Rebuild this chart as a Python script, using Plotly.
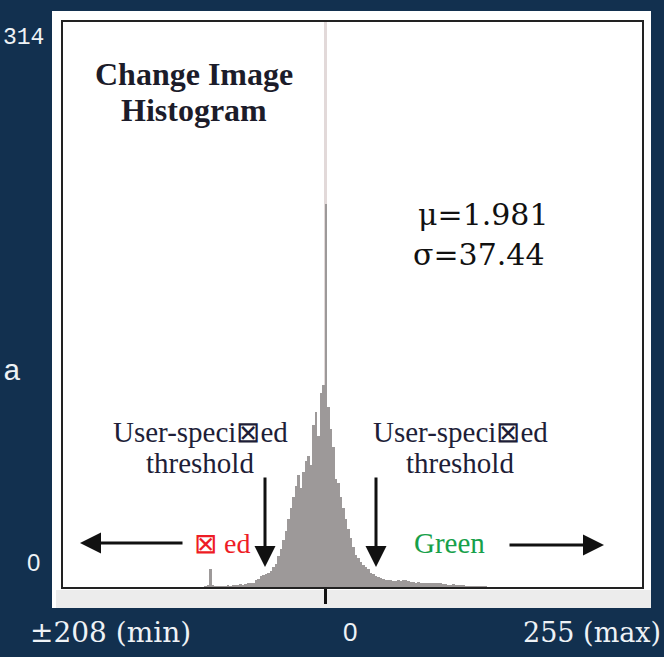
import plotly.graph_objects as go

# ---------------- data ----------------
bin_width = 2
bin_centers = list(range(-96, 130, 2))
counts = [
    0.5, 1, 10, 1, 0.5, 0.5, 0.5, 0.5, 0.5, 1,          # -96 .. -78
    0.5, 1, 1, 1, 1.5, 1, 1.5, 2, 2, 2.5,              # -76 .. -58
    4, 4.5, 6, 6.5, 7, 8, 9, 11, 13, 17,               # -56 .. -38
    21, 26, 31, 38, 44, 50, 56, 62, 55, 64,            # -36 .. -18
    70, 73, 68, 90, 97, 84, 108, 112, 213, 100,        # -16 .. 2
    88, 78, 60, 58, 50, 44, 38, 32, 27, 22,            # 4 .. 22
    18, 16, 14, 12, 11, 10, 8, 7, 6, 5.5,              # 24 .. 42
    5, 4.5, 4, 4, 4, 3.5, 3.5, 4, 3.5, 4,              # 44 .. 62
    4, 3.5, 3, 3, 2.5, 3, 2.5, 2, 2.5, 2,              # 64 .. 82
    2, 2, 2.5, 2, 2, 1.5, 1.5, 1, 1, 1.5,              # 84 .. 102
    1, 1, 0.8, 0.8, 0.5, 0.5, 0.5, 0.5, 0.3, 0.3,      # 104 .. 122
    0.3, 0.2, 0.2,                                     # 124 .. 128
]
overflow_x = [0]
overflow_count = [314]          # unchanged-pixel bin, exceeds the drawn part
y_max = 314
x_min_label = "±208 (min)"
x_zero_label = "0"
x_max_label = "255 (max)"
mu_text = "μ=1.981"
sigma_text = "σ=37.44"

# ---------------- layout helpers ----------------
W, H = 664, 657
L, R, T, B = 63, 642, 22, 587


def px(x):
    return (x - L) / (R - L)


def py(y):
    return (B - y) / (B - T)


fig = go.Figure()
fig.add_trace(go.Bar(x=overflow_x, y=overflow_count, width=1.4,
                     marker=dict(color="#e2d9d9", line=dict(width=0)),
                     hoverinfo="skip", showlegend=False))
fig.add_trace(go.Bar(x=bin_centers, y=counts, width=bin_width,
                     marker=dict(color="#9d9999", line=dict(width=0)),
                     showlegend=False))

serif = "Liberation Serif, Times New Roman, serif"
slab = "DejaVu Serif, serif"
ann = []


def text(t, x, y, size, color, family, xanchor="center", yanchor="middle"):
    ann.append(dict(text=t, x=px(x), y=py(y), xref="paper", yref="paper",
                    showarrow=False, xanchor=xanchor, yanchor=yanchor,
                    font=dict(size=size, color=color, family=family)))


def arrow(x_tip, y_tip, x_tail, y_tail):
    ann.append(dict(text="", x=px(x_tip), y=py(y_tip), xref="paper", yref="paper",
                    ax=x_tail - x_tip, ay=y_tail - y_tip, showarrow=True,
                    arrowhead=2, arrowsize=1.4, arrowwidth=3, arrowcolor="#111111"))


# in-figure texts
text("<b>Change Image</b>", 194, 74, 32, "#1c1c2a", serif)
text("<b>Histogram</b>", 194, 110, 32, "#1c1c2a", serif)
text(mu_text, 483, 215, 30, "#111111", slab)
text(sigma_text, 479, 255, 30, "#111111", slab)
text("User-speci⊠ed", 200, 432, 29, "#1e1e38", serif)
text("threshold", 200, 463, 29, "#1e1e38", serif)
text("User-speci⊠ed", 460, 432, 29, "#1e1e38", serif)
text("threshold", 460, 463, 29, "#1e1e38", serif)
text("⊠ ed", 222, 543, 28, "#ee1c25", serif)
text("Green", 449, 543, 29, "#17a04a", serif)
arrow(265, 567, 265, 476)
arrow(376, 567, 376, 476)
arrow(80, 543, 184, 543)
arrow(604, 545, 508, 545)

# slide texts around the figure
light = "#eef2f6"
text("314", 1, 38, 23, light, "Liberation Mono, monospace", xanchor="left")
text("a", 23, 372, 30, light, "Liberation Mono, monospace", xanchor="right")
text("0", 42, 562, 24, light, "Liberation Sans, Arial, sans-serif", xanchor="right")
text(x_min_label, 110, 632, 28, light, slab)
text(x_zero_label, 350, 632, 26, light, "Liberation Sans, Arial, sans-serif")
text(x_max_label, 521, 632, 27, light, slab, xanchor="left")

shapes = [
    dict(type="rect", xref="paper", yref="paper", x0=px(52), x1=px(651),
         y0=py(608), y1=py(11), fillcolor="#ffffff", line=dict(width=0), layer="below"),
    dict(type="rect", xref="paper", yref="paper", x0=px(56), x1=px(651),
         y0=py(608), y1=py(590), fillcolor="#ececec", line=dict(width=0), layer="below"),
]

fig.update_layout(
    width=W, height=H,
    margin=dict(l=L, r=W - R, t=T, b=H - B),
    paper_bgcolor="#12304f",
    plot_bgcolor="#ffffff",
    barmode="overlay",
    bargap=0,
    showlegend=False,
    annotations=ann,
    shapes=shapes,
    xaxis=dict(range=[-210, 252.6], showgrid=False, zeroline=False,
               showline=True, mirror=True, linecolor="#222222", linewidth=2,
               tickvals=[0], ticks="outside", ticklen=15, tickwidth=3,
               tickcolor="#111111", showticklabels=False, fixedrange=True),
    yaxis=dict(range=[0, y_max], showgrid=False, zeroline=False,
               showline=True, mirror=True, linecolor="#222222", linewidth=2,
               showticklabels=False, ticks="", fixedrange=True),
)

fig.write_html("out.html", config={"displayModeBar": False},
               post_script="document.body.style.margin='0';")
